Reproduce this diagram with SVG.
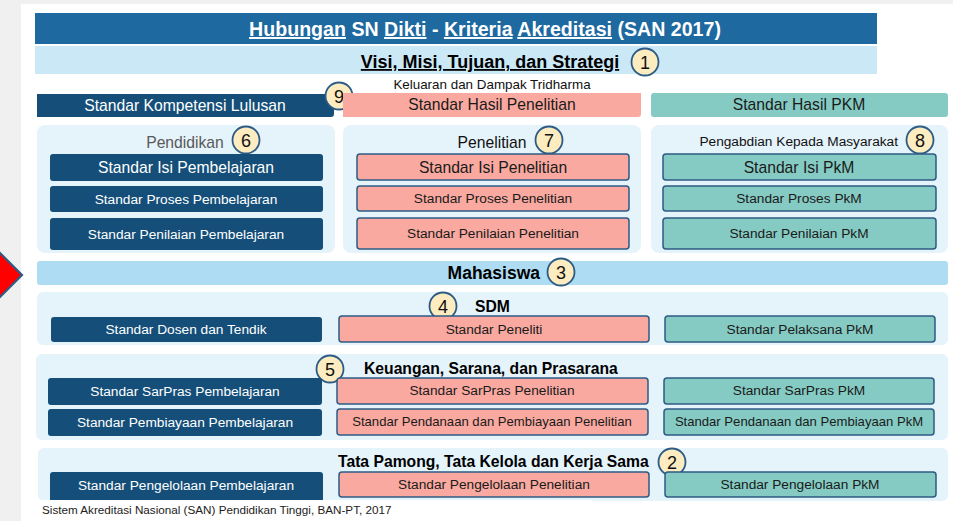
<svg xmlns="http://www.w3.org/2000/svg" width="953" height="521" viewBox="0 0 953 521">
<style>
text{font-family:"Liberation Sans",Arial,sans-serif;}
.dk{fill:#154f79;}
.pk{fill:#f9a9a0;stroke:#2c5b85;stroke-width:1.5;}
.tl{fill:#85cbc3;stroke:#2c5b85;stroke-width:1.5;}
.pn{fill:#e5f3fb;}
.wt{fill:#ffffff;text-anchor:middle;}
.bt{fill:#1a1a1a;text-anchor:middle;}
.s15{font-size:15.7px;}
.s13{font-size:13.7px;}
.cir{fill:#fdecc0;stroke:#2c5b85;stroke-width:1.8;}
.num{font-size:18px;fill:#111;text-anchor:middle;}
.hd{font-weight:bold;fill:#000;}
.ul{text-decoration:underline;}
</style>
<rect x="0" y="0" width="953" height="521" fill="#f0f0f0"/>
<rect x="21" y="4" width="932" height="517" fill="#ffffff"/>
<polygon points="-6,247 22,275 -6,303" fill="#ff0000" stroke="#2c5b85" stroke-width="2.2"/>

<g id="title">
<rect x="35" y="13" width="842" height="31" fill="#1d69a0"/>
<text x="485" y="36" font-size="19.6" font-weight="bold" fill="#fff" text-anchor="middle"><tspan class="ul">Hubungan</tspan> SN <tspan class="ul">Dikti</tspan> - <tspan class="ul">Kriteria</tspan> <tspan class="ul">Akreditasi</tspan> (SAN 2017)</text>
</g>
<g id="visi">
<rect x="35" y="46" width="842" height="28" fill="#cbe8f6"/>
<text x="490" y="68" font-size="18" class="hd ul" text-anchor="middle">Visi, Misi, Tujuan, dan Strategi</text>
<circle cx="645" cy="62" r="13.5" class="cir"/><text x="645" y="68.5" class="num">1</text>
</g>
<text x="492" y="89" font-size="13.4" fill="#111" text-anchor="middle">Keluaran dan Dampak Tridharma</text>

<g id="lulusan">
<path d="M37,94 H334 V114 Q334,117 331,117 H37 Z" class="dk"/>
<text x="185" y="111" class="wt s15">Standar Kompetensi Lulusan</text>
<circle cx="339" cy="96" r="13.5" class="cir"/><text x="339" y="102.5" class="num">9</text>
</g>
<g id="hasil-penelitian">
<path d="M343,93 H641 V114 Q641,117 638,117 H343 Z" fill="#f9a9a0"/>
<text x="492" y="110" class="bt s15">Standar Hasil Penelitian</text>
</g>
<g id="hasil-pkm">
<rect x="651" y="93" width="297" height="24" rx="3" fill="#85cbc3"/>
<text x="799" y="110" class="bt s15">Standar Hasil PKM</text>
</g>

<g id="pendidikan">
<rect x="37" y="125" width="298" height="128" rx="8" class="pn"/>
<text x="185" y="148" font-size="15.7" fill="#595959" text-anchor="middle">Pendidikan</text>
<circle cx="246" cy="140" r="13.5" class="cir"/><text x="246" y="146.5" class="num">6</text>
<rect x="50" y="154" width="273" height="27" rx="3" class="dk"/>
<text x="186" y="173" class="wt s15">Standar Isi Pembelajaran</text>
<rect x="50" y="186" width="273" height="26" rx="3" class="dk"/>
<text x="186" y="204" class="wt s13">Standar Proses Pembelajaran</text>
<rect x="50" y="218" width="273" height="32" rx="3" class="dk"/>
<text x="186" y="239" class="wt s13">Standar Penilaian Pembelajaran</text>
</g>

<g id="penelitian">
<rect x="343" y="125" width="298" height="128" rx="8" class="pn"/>
<text x="492" y="148" font-size="15.7" fill="#111" text-anchor="middle">Penelitian</text>
<circle cx="549" cy="140" r="13.5" class="cir"/><text x="549" y="146.5" class="num">7</text>
<rect x="357" y="154" width="272" height="26" rx="3" class="pk"/>
<text x="493" y="173" class="bt s15">Standar Isi Penelitian</text>
<rect x="357" y="186" width="272" height="25" rx="3" class="pk"/>
<text x="493" y="203" class="bt s13">Standar Proses Penelitian</text>
<rect x="357" y="218" width="272" height="31" rx="3" class="pk"/>
<text x="493" y="238" class="bt s13">Standar Penilaian Penelitian</text>
</g>

<g id="pkm">
<rect x="651" y="125" width="297" height="128" rx="8" class="pn"/>
<text x="898" y="146" font-size="13.7" fill="#111" text-anchor="end">Pengabdian Kepada Masyarakat</text>
<circle cx="920" cy="140" r="13.5" class="cir"/><text x="920" y="146.5" class="num">8</text>
<rect x="663" y="154" width="273" height="26" rx="3" class="tl"/>
<text x="799" y="173" class="bt s15">Standar Isi PkM</text>
<rect x="663" y="186" width="273" height="25" rx="3" class="tl"/>
<text x="799" y="203" class="bt s13">Standar Proses PkM</text>
<rect x="663" y="218" width="273" height="31" rx="3" class="tl"/>
<text x="799" y="238" class="bt s13">Standar Penilaian PkM</text>
</g>

<g id="mahasiswa">
<rect x="37" y="261" width="911" height="24" rx="3" fill="#aedcf3"/>
<text x="540" y="279" font-size="17.5" class="hd" text-anchor="end">Mahasiswa</text>
<circle cx="561" cy="272" r="13.5" class="cir"/><text x="561" y="278.5" class="num">3</text>
</g>

<g id="sdm">
<rect x="37" y="292" width="911" height="53" rx="6" class="pn"/>
<circle cx="443" cy="306" r="13.5" class="cir"/><text x="443" y="312.5" class="num">4</text>
<text x="475" y="312" font-size="15.7" class="hd">SDM</text>
<rect x="51" y="317" width="271" height="25" rx="3" class="dk"/>
<text x="186" y="334" class="wt s13">Standar Dosen dan Tendik</text>
<rect x="339" y="316" width="310" height="26" rx="3" class="pk"/>
<text x="494" y="334" class="bt s13">Standar Peneliti</text>
<rect x="665" y="316" width="270" height="26" rx="3" class="tl"/>
<text x="800" y="334" class="bt s13">Standar Pelaksana PkM</text>
</g>

<g id="keuangan">
<rect x="36" y="354" width="912" height="86" rx="6" class="pn"/>
<circle cx="330" cy="369" r="13.5" class="cir"/><text x="330" y="375.5" class="num">5</text>
<text x="364" y="374" font-size="15.7" class="hd">Keuangan, Sarana, dan Prasarana</text>
<rect x="48" y="378" width="274" height="27" rx="3" class="dk"/>
<text x="185" y="396" class="wt s13">Standar SarPras Pembelajaran</text>
<rect x="337" y="378" width="311" height="26" rx="3" class="pk"/>
<text x="492" y="395" class="bt s13">Standar SarPras Penelitian</text>
<rect x="664" y="378" width="270" height="26" rx="3" class="tl"/>
<text x="799" y="395" class="bt s13">Standar SarPras PkM</text>
<rect x="48" y="409" width="274" height="27" rx="3" class="dk"/>
<text x="185" y="427" class="wt s13">Standar Pembiayaan Pembelajaran</text>
<rect x="337" y="409" width="311" height="26" rx="3" class="pk"/>
<text x="492" y="426" class="bt" font-size="13.1">Standar Pendanaan dan Pembiayaan Penelitian</text>
<rect x="664" y="409" width="270" height="26" rx="3" class="tl"/>
<text x="799" y="426" class="bt" font-size="13.1">Standar Pendanaan dan Pembiayaan PkM</text>
</g>

<g id="tatapamong">
<rect x="38" y="448" width="910" height="53" rx="6" class="pn"/>
<text x="338" y="467" font-size="15.7" class="hd">Tata Pamong, Tata Kelola dan Kerja Sama</text>
<circle cx="672" cy="462" r="13.5" class="cir"/><text x="672" y="468.5" class="num">2</text>
<rect x="50" y="472" width="273" height="30" rx="3" class="dk"/>
<text x="186" y="490" class="wt s13">Standar Pengelolaan Pembelajaran</text>
<rect x="339" y="472" width="310" height="25" rx="3" class="pk"/>
<text x="494" y="489" class="bt s13">Standar Pengelolaan Penelitian</text>
<rect x="665" y="472" width="271" height="25" rx="3" class="tl"/>
<text x="800" y="489" class="bt s13">Standar Pengelolaan PkM</text>
</g>

<g id="footer">
<rect x="36" y="500" width="556" height="21" fill="#ffffff"/>
<text x="42" y="514" font-size="11.7" fill="#222">Sistem Akreditasi Nasional (SAN) Pendidikan Tinggi, BAN-PT, 2017</text>
</g>
</svg>
